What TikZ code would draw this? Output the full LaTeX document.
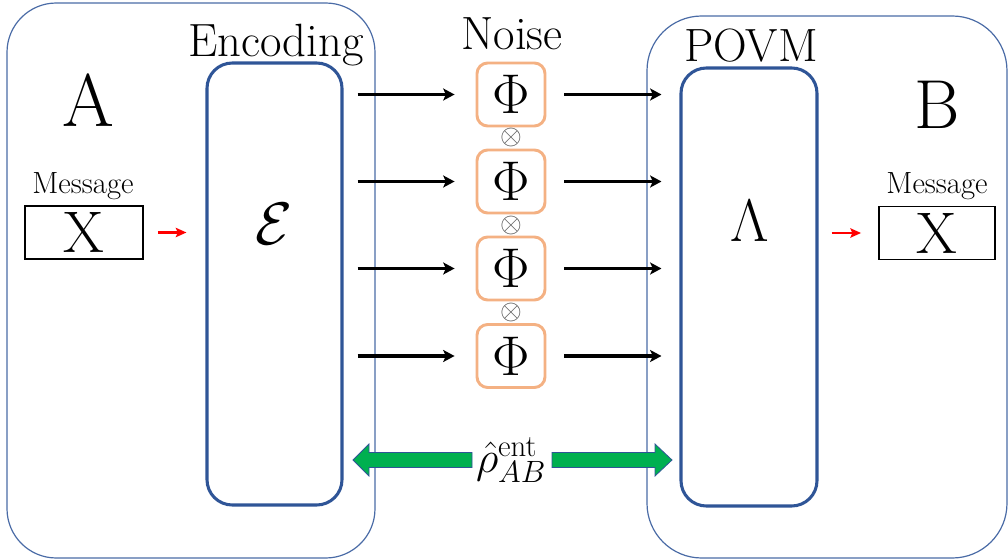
\RequirePackage{fix-cm}
\documentclass[tikz,border=0pt]{standalone}
\usetikzlibrary{arrows.meta,calc}
\definecolor{boxblue}{HTML}{2F5597}
\definecolor{outblue}{HTML}{4A6BA6}
\definecolor{phiorange}{HTML}{F4B183}
\definecolor{arrgreen}{HTML}{00B050}
\definecolor{otgray}{HTML}{555555}
\newcommand\fs[1]{\fontsize{#1}{#1}\selectfont}
\begin{document}
\begin{tikzpicture}[x=0.75pt,y=-0.75pt,
  outerbox/.style={draw=outblue, line width=0.9pt, rectangle, inner sep=0pt},
  procbox/.style={draw=boxblue, line width=2.3pt, rectangle, rounded corners=19pt, inner sep=0pt},
  phibox/.style={draw=phiorange, line width=2.2pt, rectangle, rounded corners=8pt, inner sep=0pt,
                 minimum width=51pt, minimum height=47.25pt, font=\fs{42}},
  msgbox/.style={draw=black, line width=1.4pt, rectangle, inner sep=0pt, minimum height=39.75pt, font=\fs{44}},
  lbl/.style={anchor=base, inner sep=0pt},
  chan/.style={-{Stealth[length=8.5pt,width=9pt,inset=2pt]}, line width=2.3pt, black},
  redarrow/.style={-{Stealth[length=8pt,width=7pt,inset=1.5pt]}, line width=2.2pt, red},
  greenarrow/.style={fill=arrgreen, draw=boxblue, line width=0.6pt},
  otimesnode/.style={inner sep=0pt, text=otgray, font=\fs{21}}
]
\useasboundingbox (0,0) rectangle (1008,560);

% outer party boxes
\node[outerbox, rounded corners=37pt, minimum width=276pt, minimum height=416.25pt] (Abox) at (191,280.5) {};
\node[outerbox, rounded corners=41pt, minimum width=270pt, minimum height=406.5pt] (Bbox) at (827,287) {};

% encoding / decoding boxes
\node[procbox, minimum width=101.25pt, minimum height=331.5pt] (enc) at (274.5,284) {};
\node[procbox, minimum width=102pt, minimum height=328.5pt] (pov) at (749,287) {};
\node[inner sep=0pt, font=\fs{45}] (E) at (274,224) {$\mathcal{E}$};
\node[inner sep=0pt, font=\fs{45}] (L) at (750,221) {$\Lambda$};

% labels
\node[lbl, font=\fs{35}] (encl) at (276,57) {Encoding};
\node[lbl, font=\fs{35}] (noisel) at (512,50) {Noise};
\node[lbl, font=\fs{35}] (povml) at (751,62) {POVM};
\node[lbl, font=\fs{56}] (Al) at (88,127) {A};
\node[lbl, font=\fs{52}] (Bl) at (937,129) {B};
\node[lbl, font=\fs{23}] (m1) at (83,194) {Message};
\node[lbl, font=\fs{23}] (m2) at (937,194) {Message};

% message boxes
\node[msgbox, minimum width=88.5pt] (xa) at (84,232.5) {X};
\node[msgbox, minimum width=87pt] (xb) at (937,233) {X};

% noise channels
\node[phibox] (p1) at (511,94.5) {$\Phi$};
\node[phibox] (p2) at (511,181.5) {$\Phi$};
\node[phibox] (p3) at (511,268.5) {$\Phi$};
\node[phibox] (p4) at (511,356) {$\Phi$};
\node[otimesnode] (o1) at ($(p1.south)!0.5!(p2.north)$) {$\otimes$};
\node[otimesnode] (o2) at ($(p2.south)!0.5!(p3.north)$) {$\otimes$};
\node[otimesnode] (o3) at ($(p3.south)!0.5!(p4.north)$) {$\otimes$};

% channel arrows
\foreach \p in {p1,p2,p3,p4}{
  \draw[chan] ([xshift=10.5pt]enc.east |- \p) -- ([xshift=-15.75pt]\p.west);
  \draw[chan] ([xshift=13.5pt]\p.east) -- ([xshift=-13.5pt]pov.west |- \p);
}

% red arrows
\draw[redarrow] ([xshift=10.5pt]xa.east) -- ([xshift=-14.25pt]enc.west |- xa);
\draw[redarrow] ([xshift=9.75pt]pov.east |- xb) -- ([xshift=-12.75pt]xb.west);

% entanglement
\node[inner sep=0pt, font=\fs{33}] (rho) at (511,460) {$\hat{\rho}^{\mathrm{ent}}_{AB}$};
\draw[greenarrow] (353,460) -- (369,444) -- (369,452.5) -- (472,452.5) -- (472,467.5) -- (369,467.5) -- (369,476) -- cycle;
\draw[greenarrow] (552,452.5) -- (655,452.5) -- (655,444) -- (672,460) -- (655,476) -- (655,467.5) -- (552,467.5) -- cycle;
\end{tikzpicture}
\end{document}
